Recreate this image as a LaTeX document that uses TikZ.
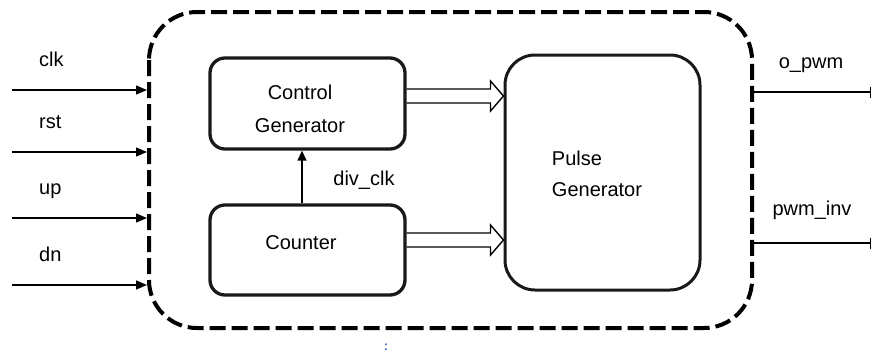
\documentclass[tikz,border=0pt]{standalone}
\usepackage{fontspec}
\setmainfont{Liberation Sans}
\usetikzlibrary{arrows.meta,calc}
\definecolor{markblue}{RGB}{70,120,210}
\begin{document}
\begin{tikzpicture}[x=1pt,y=-1pt,
  lbl/.style={font=\fontsize{20}{22}\selectfont, inner sep=0pt},
  blk/.style={draw=black!90, line width=3.3pt, rounded corners=15pt, minimum width=195pt, inner sep=0pt},
  sig/.style={line width=1.4pt, -{Triangle[length=11pt,width=9pt]}},
  outsig/.style={line width=1.4pt, -{Bar[width=11pt,line width=1.4pt]}},
  bus/.style={line width=1.4pt}
]
\useasboundingbox (0,0) rectangle (872,354);

% module boundary
\draw[line width=4pt, dash pattern=on 16pt off 6pt, rounded corners=48pt]
  (149,12) rectangle (752,328);

% inner blocks
\node[blk, minimum height=91pt] (ctrl) at (307.5,103.5) {};
\node[lbl, align=center] at (300,109) {Control\\[11pt]Generator};
\node[blk, minimum height=90pt] (cnt) at (307.5,250) {};
\node[lbl] at (301,243) {Counter};
\node[blk, minimum height=235pt, rounded corners=30pt, line width=3pt] (pulse) at (602.5,172.5) {};
\node[lbl, align=left] at (597,174) {Pulse\\[9pt]Generator};

% clock link between counter and control generator
\draw[line width=1.4pt, -{Triangle[length=10pt,width=9pt]}] (cnt.north -| 302,0) -- (ctrl.south -| 302,0);
\node[lbl] (divclk) at (364,180) {div\_clk};

% bus arrows into the pulse generator
\foreach \yy/\nm in {96/cbus, 240/kbus}{
  \coordinate (\nm s) at (ctrl.east |- 0,\yy);
  \coordinate (\nm e) at (pulse.west |- 0,\yy);
  \draw[bus, line join=miter] ($(\nm s)+(0,-7)$) -- ($(\nm e)+(-13,-7)$) -- ++(0,-8) -- (\nm e)
     -- ($(\nm e)+(-13,15)$) -- ++(0,-8) -- ($(\nm s)+(0,7)$);
}

% inputs
\foreach \yy/\txt/\nm in {90/clk/iclk, 152/rst/irst, 218/up/iup, 285/dn/idn}{
  \coordinate (\nm a) at (12,\yy);
  \coordinate (\nm b) at (147,\yy);
  \draw[sig] (\nm a) -- (\nm b);
  \node[lbl, anchor=base west] (\nm) at (39,\yy-24) {\txt};
}

% outputs
\coordinate (opa) at (752,92);
\coordinate (opb) at (871,92);
\coordinate (oia) at (752,243);
\coordinate (oib) at (871,243);
\draw[outsig] (opa) -- (opb);
\draw[outsig] (oia) -- (oib);
\node[lbl] (opwm) at (811,65) {o\_pwm};
\node[lbl] (pwminv) at (812,210) {pwm\_inv};

% small mark under the module
\node[text=markblue, font=\bfseries\fontsize{13}{13}\selectfont, inner sep=0pt] (mark) at (386,347) {:};
\end{tikzpicture}
\end{document}
